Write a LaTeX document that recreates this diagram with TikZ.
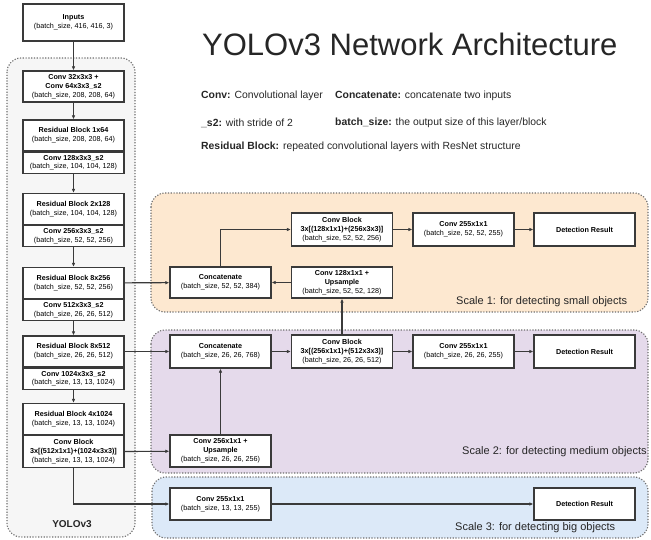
\documentclass[tikz,border=0pt]{standalone}
\usepackage{fontspec}
\setmainfont{Liberation Sans}
\usepackage{tikz}
\usetikzlibrary{arrows.meta, positioning}
\definecolor{linegray}{HTML}{3A3A3A}
\definecolor{dotgray}{HTML}{6E6E6E}
\definecolor{panelgray}{HTML}{F6F6F6}
\definecolor{smallbg}{HTML}{FDE8D0}
\definecolor{mediumbg}{HTML}{E5DAEB}
\definecolor{bigbg}{HTML}{DCE9F8}

\begin{document}
\begin{tikzpicture}[x=1pt, y=-1pt,
    blk/.style={draw=linegray, line width=1.3pt, fill=white, minimum width=101pt, minimum height=#1, inner sep=1pt, align=center, font=\fontsize{7.2}{8.8}\selectfont},
    blk/.default=31pt,
    panel/.style={fill=#1, draw=dotgray, line width=1.1pt, dash pattern=on 1.2pt off 1.6pt, rounded corners=14pt},
    arrow/.style={-{Latex[length=4pt, width=3.6pt]}, line width=1.1pt, color=linegray},
    legend/.style={anchor=west, inner sep=0pt, font=\fontsize{10.4}{12}\selectfont, text=black!85},
    scalelbl/.style={anchor=west, inner sep=0pt, font=\fontsize{11}{13}\selectfont, text=black!85}
]
\useasboundingbox (0,0) rectangle (651,540);

% background panels
\draw[panel=panelgray] (7,58) rectangle (135,537);
\draw[panel=smallbg] (151,193) rectangle (648,312);
\draw[panel=mediumbg] (151,330) rectangle (648,473);
\draw[panel=bigbg] (152,477) rectangle (648,538);

% title and legend
\node[anchor=base west, inner sep=0pt, font=\fontsize{31}{36}\selectfont, text=black!85] (title) at (202,56) {YOLOv3 Network Architecture};
\node[legend] (lgconv) at (201,96) {\textbf{Conv:} Convolutional layer};
\node[legend] (lgcat) at (335,96) {\textbf{Concatenate:} concatenate two inputs};
\node[legend] (lgstride) at (201,123) {\textbf{\_s2:} with stride of 2};
\node[legend] (lgbatch) at (335,123) {\textbf{batch\_size:} the output size of this layer/block};
\node[legend] (lgres) at (201,147) {\textbf{Residual Block:} repeated convolutional layers with ResNet structure};

% backbone
\node[blk=37pt] (inputs) at (73.5,22.5) {\textbf{Inputs}\\(batch\_size, 416, 416, 3)};
\node[blk] (conv1) at (73.5,86.5) {\textbf{Conv 32x3x3 +}\\\textbf{Conv 64x3x3\_s2}\\(batch\_size, 208, 208, 64)};
\node[blk] (res1) at (73.5,135.5) {\textbf{Residual Block 1x64}\\(batch\_size, 208, 208, 64)};
\node[blk=21pt, below=0pt of res1] (convA) {\textbf{Conv 128x3x3\_s2}\\(batch\_size, 104, 104, 128)};
\node[blk] (res2) at (73.5,209) {\textbf{Residual Block 2x128}\\(batch\_size, 104, 104, 128)};
\node[blk=21pt, below=0pt of res2] (convB) {\textbf{Conv 256x3x3\_s2}\\(batch\_size, 52, 52, 256)};
\node[blk] (res3) at (73.5,283) {\textbf{Residual Block 8x256}\\(batch\_size, 52, 52, 256)};
\node[blk=21pt, below=0pt of res3] (convC) {\textbf{Conv 512x3x3\_s2}\\(batch\_size, 26, 26, 512)};
\node[blk] (res4) at (73.5,351.5) {\textbf{Residual Block 8x512}\\(batch\_size, 26, 26, 512)};
\node[blk=21pt, below=0pt of res4] (convD) {\textbf{Conv 1024x3x3\_s2}\\(batch\_size, 13, 13, 1024)};
\node[blk] (res5) at (73.5,419) {\textbf{Residual Block 4x1024}\\(batch\_size, 13, 13, 1024)};
\node[blk=32pt, below=0pt of res5] (cblk) {\textbf{Conv Block}\\\textbf{3x[(512x1x1)+(1024x3x3)]}\\(batch\_size, 13, 13, 1024)};
\node[font=\bfseries\fontsize{10}{12}\selectfont, text=black!85] (yololbl) at (72,524) {YOLOv3};

% scale 1
\node[blk=33pt] (cb1) at (342,229.5) {\textbf{Conv Block}\\\textbf{3x[(128x1x1)+(256x3x3)]}\\(batch\_size, 52, 52, 256)};
\node[blk=33pt] (outa) at (463.5,229.5) {\textbf{Conv 255x1x1}\\(batch\_size, 52, 52, 255)};
\node[blk=33pt] (det1) at (584.5,229.5) {\textbf{Detection Result}};
\node[blk] (cat1) at (220.5,282.5) {\textbf{Concatenate}\\(batch\_size, 52, 52, 384)};
\node[blk] (up1) at (342,282.5) {\textbf{Conv 128x1x1 +}\\\textbf{Upsample}\\(batch\_size, 52, 52, 128)};
\node[scalelbl] (lbl1) at (456,302) {Scale 1: for detecting small objects};

% scale 2
\node[blk=33pt] (cat2) at (220.5,351.5) {\textbf{Concatenate}\\(batch\_size, 26, 26, 768)};
\node[blk=33pt] (cb2) at (342,351.5) {\textbf{Conv Block}\\\textbf{3x[(256x1x1)+(512x3x3)]}\\(batch\_size, 26, 26, 512)};
\node[blk=33pt] (outb) at (463.5,351.5) {\textbf{Conv 255x1x1}\\(batch\_size, 26, 26, 255)};
\node[blk=33pt] (det2) at (584.5,351.5) {\textbf{Detection Result}};
\node[blk=32pt] (up2) at (220.5,451) {\textbf{Conv 256x1x1 +}\\\textbf{Upsample}\\(batch\_size, 26, 26, 256)};
\node[scalelbl] (lbl2) at (462,452) {Scale 2: for detecting medium objects};

% scale 3
\node[blk=32pt] (outc) at (220.5,504) {\textbf{Conv 255x1x1}\\(batch\_size, 13, 13, 255)};
\node[blk=32pt] (det3) at (584.5,504) {\textbf{Detection Result}};
\node[scalelbl] (lbl3) at (455,528) {Scale 3: for detecting big objects};

% connectors
\draw[arrow] (inputs) -- (conv1);
\draw[arrow] (conv1) -- (res1);
\draw[arrow] (convA) -- (res2);
\draw[arrow] (convB) -- (res3);
\draw[arrow] (convC) -- (res4);
\draw[arrow] (convD) -- (res5);
\draw[arrow] (res3) -- (cat1);
\draw[arrow] (res4) -- (cat2);
\draw[arrow] (cblk) -- (up2);
\draw[arrow] (cblk.south) |- (outc.west);
\draw[arrow] (up1) -- (cat1);
\draw[arrow] (cat1.north) |- (cb1.west);
\draw[arrow] (cb1) -- (outa);
\draw[arrow] (outa) -- (det1);
\draw[arrow] (cb2) -- (up1);
\draw[arrow] (cat2) -- (cb2);
\draw[arrow] (cb2) -- (outb);
\draw[arrow] (outb) -- (det2);
\draw[arrow] (up2) -- (cat2);
\draw[arrow] (outc) -- (det3);
\end{tikzpicture}
\end{document}
